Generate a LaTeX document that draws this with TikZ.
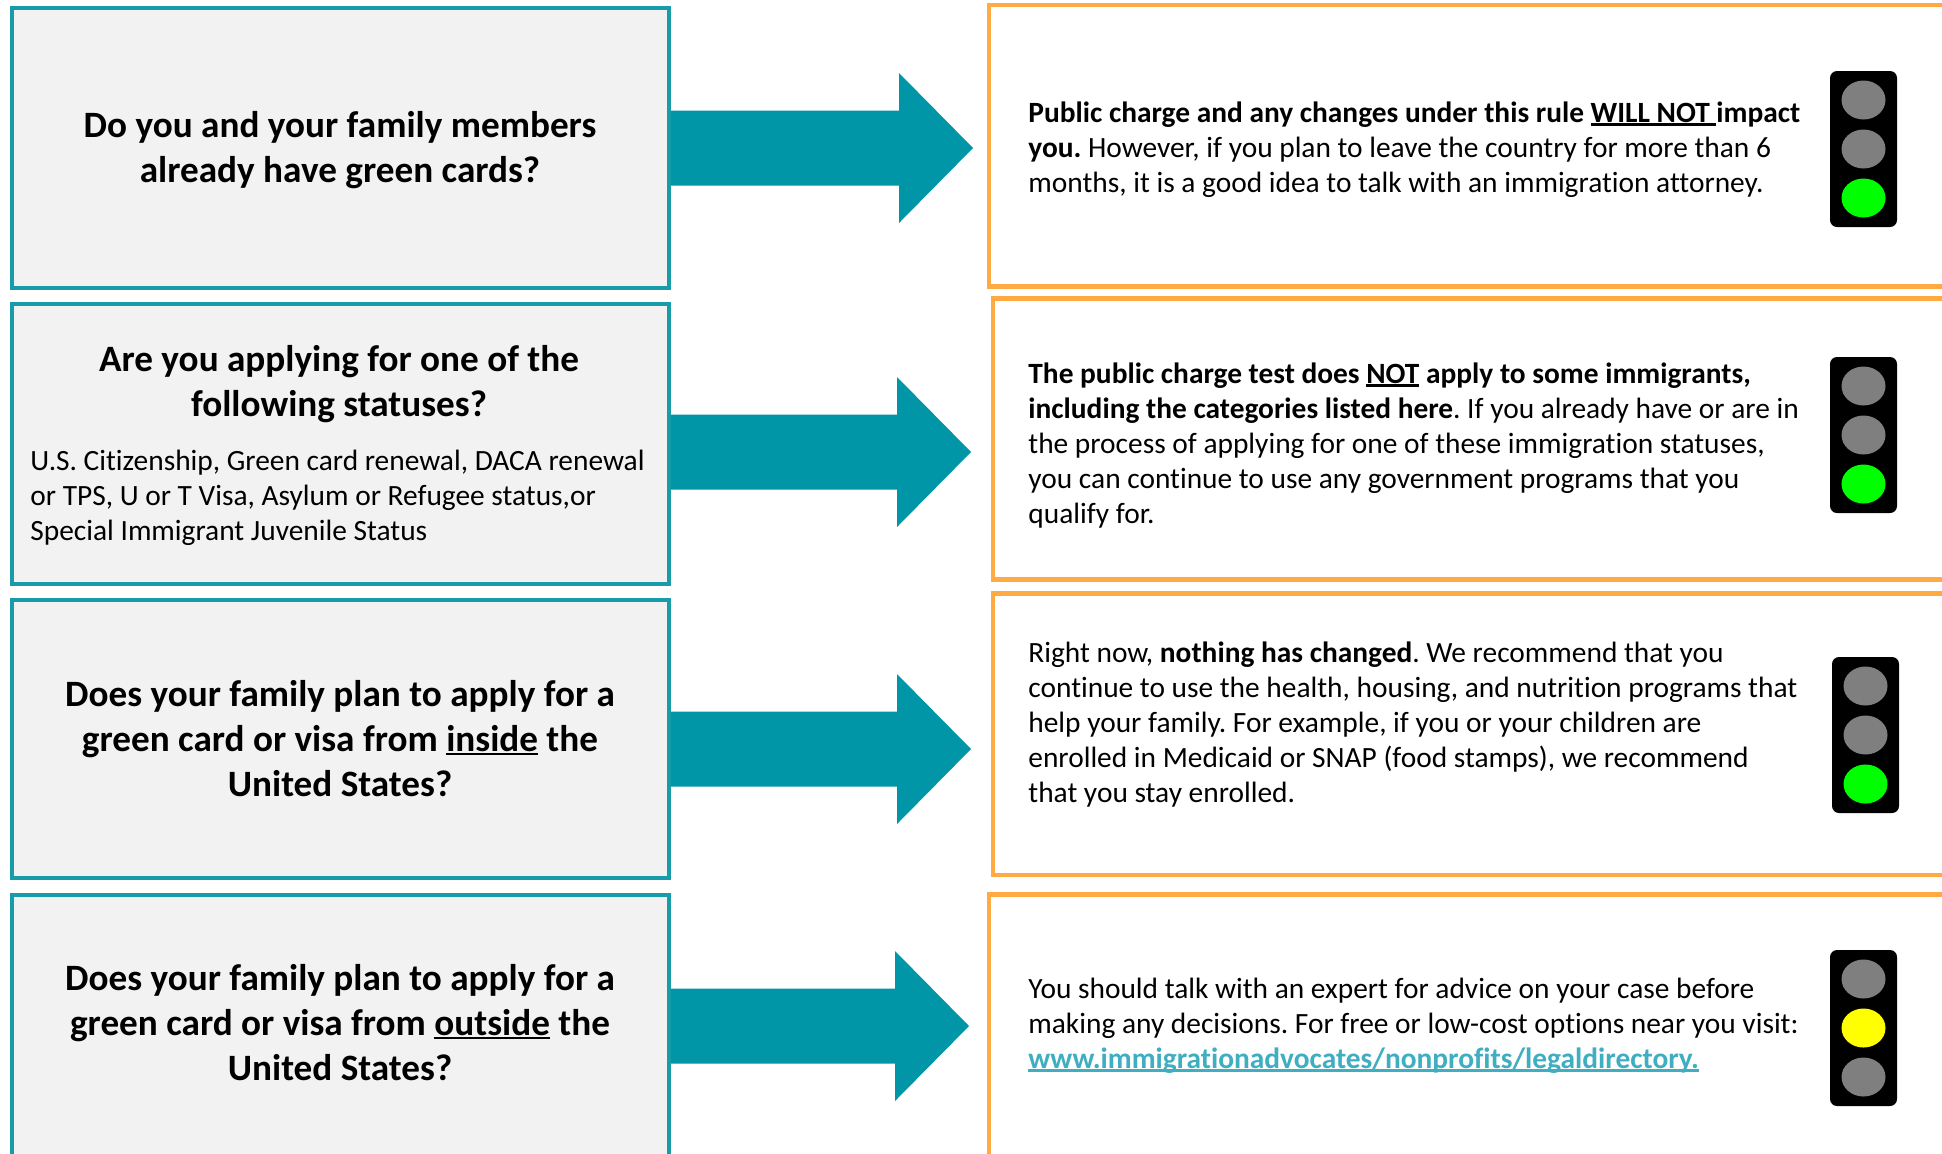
\documentclass[tikz,border=0pt]{standalone}
\usepackage{fontspec}
\setmainfont{Carlito}[Ligatures=NoCommon]
\usetikzlibrary{fit,calc}
\frenchspacing
\definecolor{tealA}{RGB}{0,150,167}
\definecolor{tealB}{RGB}{24,156,170}
\definecolor{orangeB}{RGB}{255,170,66}
\definecolor{boxgray}{RGB}{242,242,242}
\definecolor{linkc}{RGB}{62,174,192}
\definecolor{lampgray}{RGB}{127,127,127}
\definecolor{lampgreen}{RGB}{0,255,0}
\definecolor{lampyellow}{RGB}{255,255,0}
\newcommand\ulx[1]{\setbox0\hbox{#1}\rlap{\rule[-0.12em]{\wd0}{0.07em}}\box0\relax}
\newcommand\qfont{\fontsize{18.6pt}{22.5pt}\selectfont\bfseries}
\newcommand\afont{\fontsize{14.7pt}{17.5pt}\selectfont}
\tikzset{
  qbox/.style={draw=tealB, line width=1.75pt, fill=boxgray, inner sep=0pt},
  rbox/.style={draw=orangeB, line width=2.4pt, fill=white, inner sep=0pt},
  qtext/.style={inner sep=0pt, anchor=base, font=\qfont},
  atext/.style={inner sep=0pt, anchor=base west, font=\afont},
  lightbody/.style={fill=black, rounded corners=3.5pt, inner sep=0pt, minimum width=33.5pt, minimum height=78pt},
  bigarrow/.style={fill=tealA},
}
\begin{document}
\begin{tikzpicture}[x=0.5pt,y=-0.5pt]
\path[use as bounding box] (0,0) rectangle (1942,1153);
\clip (0,0) rectangle (1942,1153);
\fill[white] (0,0) rectangle (1942,1153);

% question boxes
\node[qbox, fit={(12,8) (669,288)}] (L1) {};
\node[qbox, fit={(12,304) (669,584)}] (L2) {};
\node[qbox, fit={(12,600) (669,878)}] (L3) {};
\node[qbox, fit={(12,895) (669,1210)}] (L4) {};

% answer boxes
\node[rbox, fit={(989,5) (2000,286.5)}] (R1) {};
\node[rbox, fit={(993,298.5) (2000,579.5)}] (R2) {};
\node[rbox, fit={(993,593.5) (2000,875)}] (R3) {};
\node[rbox, fit={(989,894.5) (2000,1210)}] (R4) {};

% arrows
\coordinate (T1) at (973,148);
\coordinate (T2) at (971,452);
\coordinate (T3) at (971,749);
\coordinate (T4) at (969,1026);
\foreach \i in {1,2,3,4}{
  \fill[bigarrow] ($(L\i.east|-T\i)+(0,-37.5)$) -- ($(T\i)+(-74,-37.5)$) -- ($(T\i)+(-74,-75)$)
    -- (T\i) -- ($(T\i)+(-74,75)$) -- ($(T\i)+(-74,37.5)$) -- ($(L\i.east|-T\i)+(0,37.5)$) -- cycle;
}

% question texts
\node[qtext] (Q1) at (340,137) {\begin{tabular}[t]{@{}c@{}}Do you and your family members\\ already have green cards?\end{tabular}};
\node[qtext] (Q2) at (339,371) {\begin{tabular}[t]{@{}c@{}}Are you applying for one of the\\ following statuses?\end{tabular}};
\node[atext] (Q2b) at (30,470) {\begin{tabular}[t]{@{}l@{}}U.S. Citizenship, Green card renewal, DACA renewal\\ or TPS, U or T Visa, Asylum or Refugee status,or\\ Special Immigrant Juvenile Status\end{tabular}};
\node[qtext] (Q3) at (340,706) {\begin{tabular}[t]{@{}c@{}}Does your family plan to apply for a\\ green card or visa from \ulx{inside} the\\ United States?\end{tabular}};
\node[qtext] (Q4) at (340,990) {\begin{tabular}[t]{@{}c@{}}Does your family plan to apply for a\\ green card or visa from \ulx{outside} the\\ United States?\end{tabular}};

% answer texts
\node[atext] (A1) at (1028,122) {\begin{tabular}[t]{@{}l@{}}\textbf{Public charge and any changes under this rule \ulx{WILL NOT\ }impact}\\ \textbf{you.} However, if you plan to leave the country for more than 6\\ months, it is a good idea to talk with an immigration attorney.\end{tabular}};
\node[atext] (A2) at (1028,383) {\begin{tabular}[t]{@{}l@{}}\textbf{The public charge test does \ulx{NOT} apply to some immigrants,}\\ \textbf{including the categories listed here}. If you already have or are in\\ the process of applying for one of these immigration statuses,\\ you can continue to use any government programs that you\\ qualify for.\end{tabular}};
\node[atext] (A3) at (1028,662) {\begin{tabular}[t]{@{}l@{}}Right now, \textbf{nothing has changed}. We recommend that you\\ continue to use the health, housing, and nutrition programs that\\ help your family. For example, if you or your children are\\ enrolled in Medicaid or SNAP (food stamps), we recommend\\ that you stay enrolled.\end{tabular}};
\node[atext] (A4) at (1028,998) {\begin{tabular}[t]{@{}l@{}}You should talk with an expert for advice on your case before\\ making any decisions. For free or low-cost options near you visit:\\ {\color{linkc}\bfseries\ulx{www.immigrationadvocates/nonprofits/legaldirectory.}}\end{tabular}};

% traffic lights
\foreach \n/\x/\y/\ca/\cb/\cc in {1/1863.5/149/lampgray/lampgray/lampgreen,
  2/1863.5/435/lampgray/lampgray/lampgreen,
  3/1865.5/735/lampgray/lampgray/lampgreen,
  4/1863.5/1028/lampgray/lampyellow/lampgray}{
  \node[lightbody] (TL\n) at (\x,\y) {};
  \fill[\ca] ($(TL\n.center)+(0,-49)$) ellipse [x radius=22, y radius=19.5];
  \fill[\cb] (TL\n.center) ellipse [x radius=22, y radius=19.5];
  \fill[\cc] ($(TL\n.center)+(0,49)$) ellipse [x radius=22, y radius=19.5];
}
\end{tikzpicture}
\end{document}
